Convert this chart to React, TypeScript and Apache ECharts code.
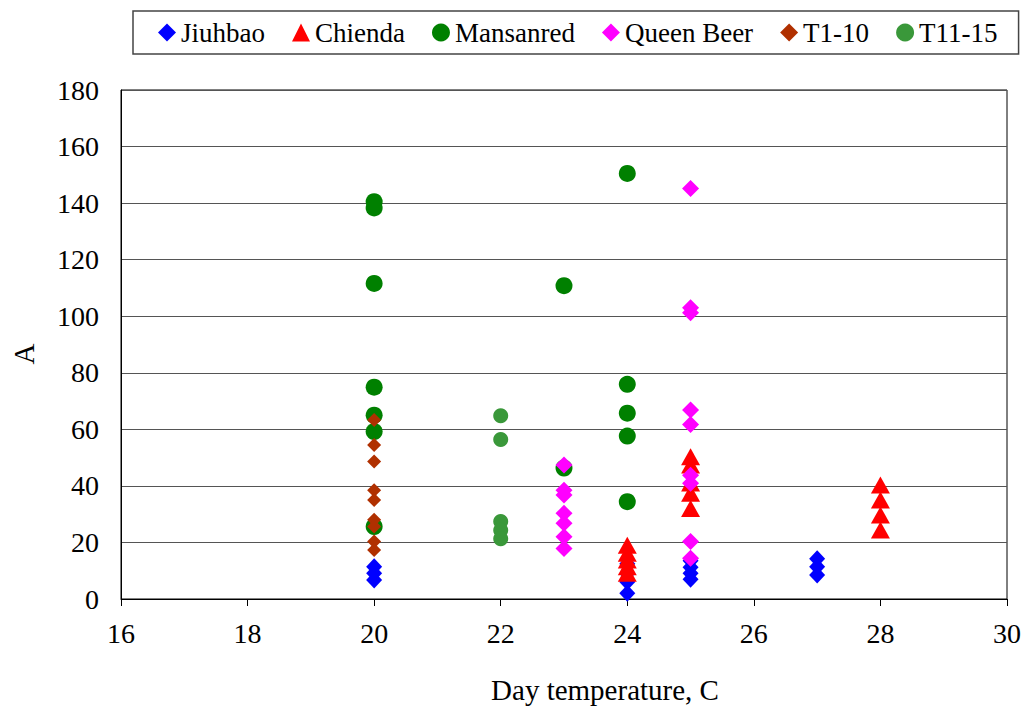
import React, { useEffect, useRef } from "react";
import * as echarts from "echarts";

const jiuhbaoX = [20, 20, 20, 24, 24, 24, 24, 25, 25, 25, 25, 27, 27, 27];
const jiuhbaoY = [11.4, 9.1, 6.7, 12.5, 9, 6, 2, 13.5, 11.2, 9.1, 7, 14.2, 11.4, 8.5];

const chiendaX = [24, 24, 24, 24, 24, 25, 25, 25, 25, 25, 28, 28, 28, 28];
const chiendaY = [19, 16.2, 13.8, 11.4, 9.1, 50.3, 47.4, 41, 37.4, 32, 40.3, 35, 29.7, 24.4];

const mansanredX = [20, 20, 20, 20, 20, 20, 20, 23, 23, 24, 24, 24, 24, 24];
const mansanredY = [140.5, 138.3, 111.6, 74.9, 65, 59.2, 25.6, 110.8, 46.3, 150.5, 75.9, 65.7, 57.6, 34.4];

const queenBeerX = [23, 23, 23, 23, 23, 23, 23, 25, 25, 25, 25, 25, 25, 25, 25, 25];
const queenBeerY = [47.4, 38.5, 36.8, 30.3, 26.8, 22, 17.9, 145.2, 103, 101.2, 66.8, 61.7, 43.8, 40.9, 20.3, 14.4];

const t110X = [20, 20, 20, 20, 20, 20, 20, 20, 20];
const t110Y = [63.3, 54.5, 48.6, 38.5, 35, 28, 25.6, 20.3, 17.3];

const t1115X = [22, 22, 22, 22, 22];
const t1115Y = [64.8, 56.4, 27.4, 24.3, 21.3];

const xTicks = [16, 18, 20, 22, 24, 26, 28, 30];
const yTicks = [0, 20, 40, 60, 80, 100, 120, 140, 160, 180];

const xTitle = "Day temperature, C";
const yTitle = "A";

const pair = (xs: number[], ys: number[]) => xs.map((x, i) => [x, ys[i]]);

const FONT = "serif";

export default function App() {
  const ref = useRef<HTMLDivElement>(null);
  useEffect(() => {
    document.body.style.margin = "0";
    const chart = echarts.init(ref.current!, null, { renderer: "svg" });
    const series: any[] = [
      { name: "Jiuhbao", x: jiuhbaoX, y: jiuhbaoY, symbol: "diamond", size: [16, 17], color: "#0000FF" },
      { name: "Chienda", x: chiendaX, y: chiendaY, symbol: "triangle", size: [19, 17], color: "#FF0000" },
      { name: "Mansanred", x: mansanredX, y: mansanredY, symbol: "circle", size: 17, color: "#008000" },
      { name: "Queen Beer", x: queenBeerX, y: queenBeerY, symbol: "diamond", size: [17, 17], color: "#FF00FF" },
      { name: "T1-10", x: t110X, y: t110Y, symbol: "diamond", size: [14, 14], color: "#B03000" },
      { name: "T11-15", x: t1115X, y: t1115Y, symbol: "circle", size: 15, color: "#3A983A" },
    ].map((s) => ({
      name: s.name,
      type: "scatter",
      data: pair(s.x, s.y),
      symbol: s.symbol,
      symbolSize: s.size,
      itemStyle: { color: s.color, opacity: 1 },
    }));
    chart.setOption({
      animation: false,
      textStyle: { fontFamily: FONT },
      grid: {
        left: 121,
        right: 19,
        top: 90,
        bottom: 108,
        outerBoundsMode: "none",
        containLabel: false,
        show: true,
        borderColor: "#000",
        borderWidth: 1,
        backgroundColor: "transparent",
      },
      legend: {
        left: 133,
        top: 11,
        padding: [8, 21, 8, 25],
        itemGap: 27,
        itemWidth: 18,
        itemHeight: 18,
        borderColor: "#444",
        borderWidth: 1.5,
        textStyle: { fontFamily: FONT, fontSize: 27, color: "#000" },
        data: ["Jiuhbao", "Chienda", "Mansanred", "Queen Beer", "T1-10", "T11-15"],
      },
      graphic: [
        {
          type: "text",
          x: 605,
          y: 690,
          style: {
            text: xTitle,
            fontFamily: FONT,
            fontSize: 29,
            fill: "#000",
            align: "center",
            verticalAlign: "middle",
          },
        },
        {
          type: "text",
          x: 24,
          y: 354,
          rotation: Math.PI / 2,
          style: {
            text: yTitle,
            fontFamily: FONT,
            fontSize: 29,
            fill: "#000",
            align: "center",
            verticalAlign: "middle",
          },
        },
      ],
      xAxis: {
        type: "value",
        min: xTicks[0],
        max: xTicks[xTicks.length - 1],
        interval: 2,
        axisLine: { show: true, lineStyle: { color: "#000", width: 1 } },
        axisTick: { show: true, inside: false, length: 7, lineStyle: { color: "#000" } },
        axisLabel: { fontFamily: FONT, fontSize: 28, color: "#000", margin: 20 },
        splitLine: { show: false },
      },
      yAxis: {
        type: "value",
        min: yTicks[0],
        max: yTicks[yTicks.length - 1],
        interval: 20,
        axisLine: { show: true, lineStyle: { color: "#000", width: 1 } },
        axisTick: { show: false },
        axisLabel: { fontFamily: FONT, fontSize: 28, color: "#000", margin: 22 },
        splitLine: { show: true, lineStyle: { color: "#555", width: 1 } },
      },
      series,
    });
    return () => chart.dispose();
  }, []);
  return (
    <div
      ref={ref}
      style={{ position: "fixed", left: 0, top: 0, width: 1026, height: 707, background: "#fff" }}
    />
  );
}
